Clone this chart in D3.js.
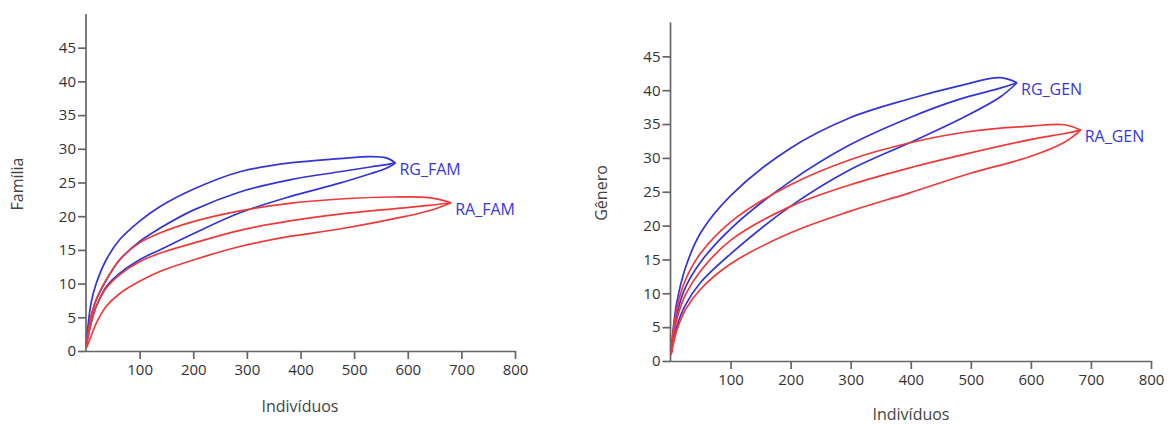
<!DOCTYPE html>
<html>
<head>
<meta charset="utf-8">
<script src="https://cdn.jsdelivr.net/npm/d3@7"></script>
<style>
  html, body { margin: 0; padding: 0; background: #fff; }
  svg { display: block; }
  .tick text { font-family: "Open Sans", sans-serif; font-size: 15px; fill: #333; }
  .axis path, .axis line { stroke: #666; stroke-width: 1.7; }
  .title { font-family: "Open Sans", sans-serif; font-size: 16px; fill: #444; }
  .lab { font-family: "Open Sans", sans-serif; font-size: 16px; fill: #3838da; }
</style>
</head>
<body>
<svg id="chart" width="1173" height="426"></svg>
<script>
// Axis ticks shared by both panels
const xTicks = [100, 200, 300, 400, 500, 600, 700, 800];
const yTicks = [0, 5, 10, 15, 20, 25, 30, 35, 40, 45];

// Família — RG_FAM (individuals, upper bound, estimate, lower bound)
const rgFamX     = [1, 3, 9.4, 19, 37.5, 62.5, 99, 137.5, 200, 287, 380, 473, 530, 560, 577];
const rgFamUpper = [1, 3.1, 7.1, 10.0, 13.5, 16.5, 19.2, 21.4, 24.0, 26.6, 27.9, 28.55, 28.85, 28.65, 27.9];
const rgFamMean  = [1, 2.3, 5.1, 7.6, 10.5, 13.5, 16.2, 18.2, 20.9, 23.6, 25.4, 26.6, 27.3, 27.65, 27.9];
const rgFamLower = [1, 1.8, 4.1, 6.6, 9.5, 11.5, 13.5, 15.0, 17.4, 20.5, 22.9, 24.9, 26.3, 27.1, 27.9];

// Família — RA_FAM
const raFamX     = [1, 3, 9.4, 19, 37.5, 62.5, 99, 137.5, 200, 287, 380, 473, 573, 640, 681];
const raFamUpper = [1, 2.3, 5.1, 7.6, 10.5, 13.5, 16.0, 17.5, 19.2, 20.8, 21.9, 22.55, 22.85, 22.75, 22.0];
const raFamMean  = [1, 1.8, 4.1, 6.6, 9.3, 11.3, 13.2, 14.5, 16.0, 17.9, 19.3, 20.3, 21.1, 21.6, 22.0];
const raFamLower = [0.5, 0.9, 2.2, 4.1, 6.6, 8.5, 10.3, 11.8, 13.5, 15.5, 17.0, 18.1, 19.6, 20.8, 22.0];

// Gênero — RG_GEN
const rgGenX     = [1, 4, 10, 25, 50, 101, 199, 298, 397, 479, 549, 577];
const rgGenUpper = [1, 4.3, 8.4, 13.8, 18.9, 24.5, 31.4, 35.9, 38.7, 40.6, 41.85, 41.1];
const rgGenMean  = [1, 3.3, 6.7, 10.9, 14.6, 19.6, 26.5, 31.9, 35.9, 38.6, 40.3, 41.1];
const rgGenLower = [1, 2.6, 5.0, 8.3, 11.6, 15.9, 22.8, 28.2, 32.2, 35.6, 39.0, 41.1];

// Gênero — RA_GEN
const raGenX     = [1, 4, 10, 25, 50, 101, 199, 298, 397, 498, 599, 656, 683];
const raGenUpper = [1, 3.9, 7.6, 12.0, 15.9, 20.6, 26.0, 29.7, 32.2, 33.9, 34.7, 34.9, 34.1];
const raGenMean  = [1, 3.0, 6.0, 9.8, 13.3, 17.9, 22.8, 26.0, 28.5, 30.7, 32.7, 33.6, 34.1];
const raGenLower = [1, 2.2, 4.4, 7.6, 10.6, 14.4, 18.9, 22.1, 24.8, 27.7, 30.2, 32.3, 34.1];

const BLUE = "#3434d6";
const RED = "#ec3a3a";

const svg = d3.select("#chart");

function panel(cfg) {
  const x = d3.scaleLinear().domain([0, 800]).range([cfg.left, cfg.right]);
  const y = d3.scaleLinear().domain([0, 50]).range([cfg.bottom, cfg.top]);
  const g = svg.append("g");

  g.append("g").attr("class", "axis")
    .attr("transform", `translate(0,${cfg.bottom})`)
    .call(d3.axisBottom(x).tickValues(xTicks).tickSize(8).tickPadding(5).tickSizeOuter(0));
  const ya = g.append("g").attr("class", "axis")
    .attr("transform", `translate(${cfg.left},0)`)
    .call(d3.axisLeft(y).tickValues(yTicks).tickSize(8).tickPadding(2).tickSizeOuter(0));
  ya.select(".domain").attr("d", `M0,${y(0) + 1}V${y(50)}`);

  const line = d3.line()
    .x(d => x(d[0]))
    .y(d => y(d[1]))
    .curve(d3.curveCatmullRom.alpha(0.5));

  cfg.series.forEach(s => {
    [s.upper, s.mean, s.lower].forEach(vals => {
      g.append("path")
        .datum(s.x.map((v, i) => [v, vals[i]]))
        .attr("fill", "none")
        .attr("stroke", s.color)
        .attr("stroke-width", 1.7)
        .attr("stroke-linejoin", "round")
        .attr("d", line);
    });
    const n = s.x.length - 1;
    g.append("text").attr("class", "lab")
      .attr("x", x(s.x[n]) + 4)
      .attr("y", y(s.mean[n]) + 12)
      .text(s.name);
  });

  g.append("text").attr("class", "title")
    .attr("x", cfg.xTitle[0]).attr("y", cfg.xTitle[1])
    .attr("text-anchor", "middle")
    .text("Indivíduos");
  g.append("text").attr("class", "title")
    .attr("transform", `translate(${cfg.yTitle[0]},${cfg.yTitle[1]}) rotate(-90)`)
    .attr("text-anchor", "middle")
    .text(cfg.yLabel);
}

panel({
  left: 86, right: 515, top: 14, bottom: 351,
  xTitle: [300, 412], yTitle: [23, 184], yLabel: "Família",
  series: [
    { name: "RG_FAM", color: BLUE, x: rgFamX, upper: rgFamUpper, mean: rgFamMean, lower: rgFamLower },
    { name: "RA_FAM", color: RED, x: raFamX, upper: raFamUpper, mean: raFamMean, lower: raFamLower }
  ]
});

panel({
  left: 670.5, right: 1151, top: 22.5, bottom: 361,
  xTitle: [911, 420], yTitle: [607, 193], yLabel: "Gênero",
  series: [
    { name: "RG_GEN", color: BLUE, x: rgGenX, upper: rgGenUpper, mean: rgGenMean, lower: rgGenLower },
    { name: "RA_GEN", color: RED, x: raGenX, upper: raGenUpper, mean: raGenMean, lower: raGenLower }
  ]
});
</script>
</body>
</html>
